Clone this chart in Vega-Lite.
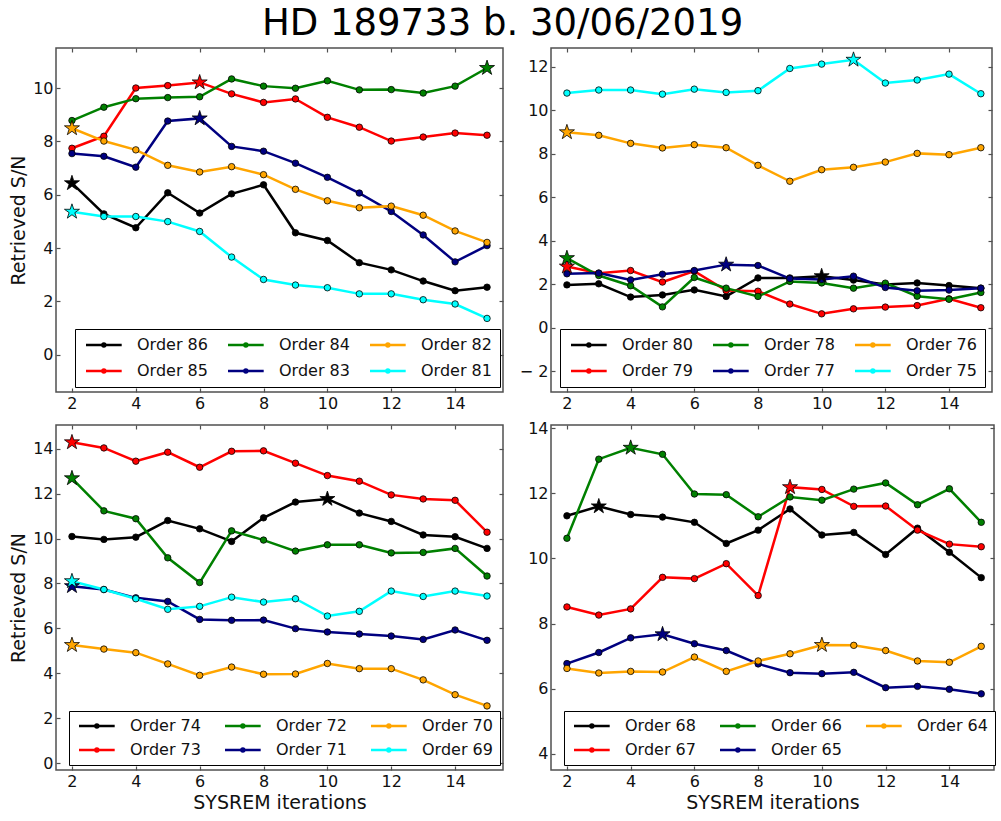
{
"$schema": "https://vega.github.io/schema/vega-lite/v6.json",
"background": "white",
"padding": {"left": 8, "top": 4, "right": 3, "bottom": 5},
"title": {"text": "HD 189733 b. 30/06/2019", "font": "DejaVu Sans", "fontSize": 37, "fontWeight": "normal", "color": "#000", "anchor": "middle", "frame": "bounds", "offset": 4},
"config": {
  "font": "DejaVu Sans",
  "view": {"stroke": "#505050", "strokeWidth": 1.5},
  "axis": {"domain": false, "grid": false, "ticks": true, "tickColor": "#505050", "tickSize": -4, "tickWidth": 1.2, "labelFont": "DejaVu Sans", "labelFontSize": 16, "labelColor": "#111", "labelPadding": 7, "titleFont": "DejaVu Sans", "titleFontSize": 19, "titleFontWeight": "normal", "titleColor": "#111"},
  "legend": {"labelFont": "DejaVu Sans", "labelFontSize": 16, "labelColor": "#111"}
},
"bounds": "flush",
"columns": 2,
"spacing": {"row": 33, "column": 48},
"resolve": {"scale": {"color": "independent"}, "legend": {"color": "independent"}},
"datasets": {"d": [
{"p":1,"s":"86","x":2,"y":6.43,"k":1},{"p":1,"s":"86","x":3,"y":5.28},{"p":1,"s":"86","x":4,"y":4.76},{"p":1,"s":"86","x":5,"y":6.07},{"p":1,"s":"86","x":6,"y":5.31},{"p":1,"s":"86","x":7,"y":6.03},{"p":1,"s":"86","x":8,"y":6.37},{"p":1,"s":"86","x":9,"y":4.57},{"p":1,"s":"86","x":10,"y":4.28},{"p":1,"s":"86","x":11,"y":3.45},{"p":1,"s":"86","x":12,"y":3.18},{"p":1,"s":"86","x":13,"y":2.76},{"p":1,"s":"86","x":14,"y":2.40},{"p":1,"s":"86","x":15,"y":2.53},
{"p":1,"s":"85","x":2,"y":7.74},{"p":1,"s":"85","x":3,"y":8.19},{"p":1,"s":"85","x":4,"y":10.0},{"p":1,"s":"85","x":5,"y":10.09},{"p":1,"s":"85","x":6,"y":10.21,"k":1},{"p":1,"s":"85","x":7,"y":9.78},{"p":1,"s":"85","x":8,"y":9.46},{"p":1,"s":"85","x":9,"y":9.59},{"p":1,"s":"85","x":10,"y":8.9},{"p":1,"s":"85","x":11,"y":8.53},{"p":1,"s":"85","x":12,"y":8.01},{"p":1,"s":"85","x":13,"y":8.16},{"p":1,"s":"85","x":14,"y":8.31},{"p":1,"s":"85","x":15,"y":8.23},
{"p":1,"s":"84","x":2,"y":8.78},{"p":1,"s":"84","x":3,"y":9.28},{"p":1,"s":"84","x":4,"y":9.6},{"p":1,"s":"84","x":5,"y":9.64},{"p":1,"s":"84","x":6,"y":9.67},{"p":1,"s":"84","x":7,"y":10.34},{"p":1,"s":"84","x":8,"y":10.07},{"p":1,"s":"84","x":9,"y":9.99},{"p":1,"s":"84","x":10,"y":10.27},{"p":1,"s":"84","x":11,"y":9.93},{"p":1,"s":"84","x":12,"y":9.94},{"p":1,"s":"84","x":13,"y":9.81},{"p":1,"s":"84","x":14,"y":10.07},{"p":1,"s":"84","x":15,"y":10.75,"k":1},
{"p":1,"s":"83","x":2,"y":7.54},{"p":1,"s":"83","x":3,"y":7.44},{"p":1,"s":"83","x":4,"y":7.03},{"p":1,"s":"83","x":5,"y":8.76},{"p":1,"s":"83","x":6,"y":8.86,"k":1},{"p":1,"s":"83","x":7,"y":7.81},{"p":1,"s":"83","x":8,"y":7.63},{"p":1,"s":"83","x":9,"y":7.18},{"p":1,"s":"83","x":10,"y":6.65},{"p":1,"s":"83","x":11,"y":6.06},{"p":1,"s":"83","x":12,"y":5.37},{"p":1,"s":"83","x":13,"y":4.49},{"p":1,"s":"83","x":14,"y":3.48},{"p":1,"s":"83","x":15,"y":4.09},
{"p":1,"s":"82","x":2,"y":8.49,"k":1},{"p":1,"s":"82","x":3,"y":8.01},{"p":1,"s":"82","x":4,"y":7.68},{"p":1,"s":"82","x":5,"y":7.1},{"p":1,"s":"82","x":6,"y":6.85},{"p":1,"s":"82","x":7,"y":7.05},{"p":1,"s":"82","x":8,"y":6.75},{"p":1,"s":"82","x":9,"y":6.2},{"p":1,"s":"82","x":10,"y":5.77},{"p":1,"s":"82","x":11,"y":5.51},{"p":1,"s":"82","x":12,"y":5.57},{"p":1,"s":"82","x":13,"y":5.23},{"p":1,"s":"82","x":14,"y":4.64},{"p":1,"s":"82","x":15,"y":4.21},
{"p":1,"s":"81","x":2,"y":5.36,"k":1},{"p":1,"s":"81","x":3,"y":5.18},{"p":1,"s":"81","x":4,"y":5.18},{"p":1,"s":"81","x":5,"y":4.99},{"p":1,"s":"81","x":6,"y":4.62},{"p":1,"s":"81","x":7,"y":3.66},{"p":1,"s":"81","x":8,"y":2.82},{"p":1,"s":"81","x":9,"y":2.61},{"p":1,"s":"81","x":10,"y":2.51},{"p":1,"s":"81","x":11,"y":2.28},{"p":1,"s":"81","x":12,"y":2.28},{"p":1,"s":"81","x":13,"y":2.06},{"p":1,"s":"81","x":14,"y":1.9},{"p":1,"s":"81","x":15,"y":1.36},

{"p":2,"s":"80","x":2,"y":1.97},{"p":2,"s":"80","x":3,"y":2.02},{"p":2,"s":"80","x":4,"y":1.41},{"p":2,"s":"80","x":5,"y":1.51},{"p":2,"s":"80","x":6,"y":1.74},{"p":2,"s":"80","x":7,"y":1.44},{"p":2,"s":"80","x":8,"y":2.29},{"p":2,"s":"80","x":9,"y":2.29},{"p":2,"s":"80","x":10,"y":2.37,"k":1},{"p":2,"s":"80","x":11,"y":2.19},{"p":2,"s":"80","x":12,"y":1.99},{"p":2,"s":"80","x":13,"y":2.06},{"p":2,"s":"80","x":14,"y":1.94},{"p":2,"s":"80","x":15,"y":1.82},
{"p":2,"s":"79","x":2,"y":2.81,"k":1},{"p":2,"s":"79","x":3,"y":2.51},{"p":2,"s":"79","x":4,"y":2.63},{"p":2,"s":"79","x":5,"y":2.1},{"p":2,"s":"79","x":6,"y":2.6},{"p":2,"s":"79","x":7,"y":1.71},{"p":2,"s":"79","x":8,"y":1.68},{"p":2,"s":"79","x":9,"y":1.09},{"p":2,"s":"79","x":10,"y":0.64},{"p":2,"s":"79","x":11,"y":0.87},{"p":2,"s":"79","x":12,"y":0.95},{"p":2,"s":"79","x":13,"y":1.02},{"p":2,"s":"79","x":14,"y":1.33},{"p":2,"s":"79","x":15,"y":0.92},
{"p":2,"s":"78","x":2,"y":3.2,"k":1},{"p":2,"s":"78","x":3,"y":2.4},{"p":2,"s":"78","x":4,"y":1.93},{"p":2,"s":"78","x":5,"y":0.96},{"p":2,"s":"78","x":6,"y":2.31},{"p":2,"s":"78","x":7,"y":1.82},{"p":2,"s":"78","x":8,"y":1.44},{"p":2,"s":"78","x":9,"y":2.13},{"p":2,"s":"78","x":10,"y":2.06},{"p":2,"s":"78","x":11,"y":1.82},{"p":2,"s":"78","x":12,"y":2.05},{"p":2,"s":"78","x":13,"y":1.45},{"p":2,"s":"78","x":14,"y":1.31},{"p":2,"s":"78","x":15,"y":1.62},
{"p":2,"s":"77","x":2,"y":2.48},{"p":2,"s":"77","x":3,"y":2.51},{"p":2,"s":"77","x":4,"y":2.2},{"p":2,"s":"77","x":5,"y":2.46},{"p":2,"s":"77","x":6,"y":2.63},{"p":2,"s":"77","x":7,"y":2.9,"k":1},{"p":2,"s":"77","x":8,"y":2.86},{"p":2,"s":"77","x":9,"y":2.26},{"p":2,"s":"77","x":10,"y":2.22},{"p":2,"s":"77","x":11,"y":2.37},{"p":2,"s":"77","x":12,"y":1.85},{"p":2,"s":"77","x":13,"y":1.7},{"p":2,"s":"77","x":14,"y":1.73},{"p":2,"s":"77","x":15,"y":1.82},
{"p":2,"s":"76","x":2,"y":8.98,"k":1},{"p":2,"s":"76","x":3,"y":8.84},{"p":2,"s":"76","x":4,"y":8.47},{"p":2,"s":"76","x":5,"y":8.26},{"p":2,"s":"76","x":6,"y":8.41},{"p":2,"s":"76","x":7,"y":8.27},{"p":2,"s":"76","x":8,"y":7.46},{"p":2,"s":"76","x":9,"y":6.73},{"p":2,"s":"76","x":10,"y":7.26},{"p":2,"s":"76","x":11,"y":7.37},{"p":2,"s":"76","x":12,"y":7.61},{"p":2,"s":"76","x":13,"y":8.01},{"p":2,"s":"76","x":14,"y":7.95},{"p":2,"s":"76","x":15,"y":8.27},
{"p":2,"s":"75","x":2,"y":10.78},{"p":2,"s":"75","x":3,"y":10.92},{"p":2,"s":"75","x":4,"y":10.92},{"p":2,"s":"75","x":5,"y":10.73},{"p":2,"s":"75","x":6,"y":10.96},{"p":2,"s":"75","x":7,"y":10.81},{"p":2,"s":"75","x":8,"y":10.89},{"p":2,"s":"75","x":9,"y":11.91},{"p":2,"s":"75","x":10,"y":12.11},{"p":2,"s":"75","x":11,"y":12.31,"k":1},{"p":2,"s":"75","x":12,"y":11.24},{"p":2,"s":"75","x":13,"y":11.38},{"p":2,"s":"75","x":14,"y":11.65},{"p":2,"s":"75","x":15,"y":10.75},

{"p":3,"s":"74","x":2,"y":10.09},{"p":3,"s":"74","x":3,"y":9.96},{"p":3,"s":"74","x":4,"y":10.06},{"p":3,"s":"74","x":5,"y":10.8},{"p":3,"s":"74","x":6,"y":10.43},{"p":3,"s":"74","x":7,"y":9.87},{"p":3,"s":"74","x":8,"y":10.92},{"p":3,"s":"74","x":9,"y":11.62},{"p":3,"s":"74","x":10,"y":11.76,"k":1},{"p":3,"s":"74","x":11,"y":11.13},{"p":3,"s":"74","x":12,"y":10.76},{"p":3,"s":"74","x":13,"y":10.16},{"p":3,"s":"74","x":14,"y":10.08},{"p":3,"s":"74","x":15,"y":9.56},
{"p":3,"s":"73","x":2,"y":14.28,"k":1},{"p":3,"s":"73","x":3,"y":14.03},{"p":3,"s":"73","x":4,"y":13.44},{"p":3,"s":"73","x":5,"y":13.84},{"p":3,"s":"73","x":6,"y":13.17},{"p":3,"s":"73","x":7,"y":13.88},{"p":3,"s":"73","x":8,"y":13.9},{"p":3,"s":"73","x":9,"y":13.35},{"p":3,"s":"73","x":10,"y":12.8},{"p":3,"s":"73","x":11,"y":12.55},{"p":3,"s":"73","x":12,"y":11.94},{"p":3,"s":"73","x":13,"y":11.76},{"p":3,"s":"73","x":14,"y":11.7},{"p":3,"s":"73","x":15,"y":10.28},
{"p":3,"s":"72","x":2,"y":12.68,"k":1},{"p":3,"s":"72","x":3,"y":11.23},{"p":3,"s":"72","x":4,"y":10.88},{"p":3,"s":"72","x":5,"y":9.14},{"p":3,"s":"72","x":6,"y":8.04},{"p":3,"s":"72","x":7,"y":10.34},{"p":3,"s":"72","x":8,"y":9.93},{"p":3,"s":"72","x":9,"y":9.44},{"p":3,"s":"72","x":10,"y":9.72},{"p":3,"s":"72","x":11,"y":9.72},{"p":3,"s":"72","x":12,"y":9.36},{"p":3,"s":"72","x":13,"y":9.38},{"p":3,"s":"72","x":14,"y":9.56},{"p":3,"s":"72","x":15,"y":8.33},
{"p":3,"s":"71","x":2,"y":7.88,"k":1},{"p":3,"s":"71","x":3,"y":7.73},{"p":3,"s":"71","x":4,"y":7.36},{"p":3,"s":"71","x":5,"y":7.2},{"p":3,"s":"71","x":6,"y":6.4},{"p":3,"s":"71","x":7,"y":6.36},{"p":3,"s":"71","x":8,"y":6.37},{"p":3,"s":"71","x":9,"y":5.99},{"p":3,"s":"71","x":10,"y":5.84},{"p":3,"s":"71","x":11,"y":5.75},{"p":3,"s":"71","x":12,"y":5.66},{"p":3,"s":"71","x":13,"y":5.51},{"p":3,"s":"71","x":14,"y":5.93},{"p":3,"s":"71","x":15,"y":5.47},
{"p":3,"s":"70","x":2,"y":5.26,"k":1},{"p":3,"s":"70","x":3,"y":5.08},{"p":3,"s":"70","x":4,"y":4.92},{"p":3,"s":"70","x":5,"y":4.42},{"p":3,"s":"70","x":6,"y":3.91},{"p":3,"s":"70","x":7,"y":4.28},{"p":3,"s":"70","x":8,"y":3.96},{"p":3,"s":"70","x":9,"y":3.97},{"p":3,"s":"70","x":10,"y":4.44},{"p":3,"s":"70","x":11,"y":4.21},{"p":3,"s":"70","x":12,"y":4.21},{"p":3,"s":"70","x":13,"y":3.71},{"p":3,"s":"70","x":14,"y":3.05},{"p":3,"s":"70","x":15,"y":2.55},
{"p":3,"s":"69","x":2,"y":8.1,"k":1},{"p":3,"s":"69","x":3,"y":7.73},{"p":3,"s":"69","x":4,"y":7.32},{"p":3,"s":"69","x":5,"y":6.85},{"p":3,"s":"69","x":6,"y":6.98},{"p":3,"s":"69","x":7,"y":7.39},{"p":3,"s":"69","x":8,"y":7.17},{"p":3,"s":"69","x":9,"y":7.32},{"p":3,"s":"69","x":10,"y":6.55},{"p":3,"s":"69","x":11,"y":6.76},{"p":3,"s":"69","x":12,"y":7.66},{"p":3,"s":"69","x":13,"y":7.42},{"p":3,"s":"69","x":14,"y":7.66},{"p":3,"s":"69","x":15,"y":7.44},

{"p":4,"s":"68","x":2,"y":11.31},{"p":4,"s":"68","x":3,"y":11.6,"k":1},{"p":4,"s":"68","x":4,"y":11.35},{"p":4,"s":"68","x":5,"y":11.27},{"p":4,"s":"68","x":6,"y":11.11},{"p":4,"s":"68","x":7,"y":10.46},{"p":4,"s":"68","x":8,"y":10.87},{"p":4,"s":"68","x":9,"y":11.52},{"p":4,"s":"68","x":10,"y":10.72},{"p":4,"s":"68","x":11,"y":10.8},{"p":4,"s":"68","x":12,"y":10.12},{"p":4,"s":"68","x":13,"y":10.93},{"p":4,"s":"68","x":14,"y":10.19},{"p":4,"s":"68","x":15,"y":9.41},
{"p":4,"s":"67","x":2,"y":8.51},{"p":4,"s":"67","x":3,"y":8.26},{"p":4,"s":"67","x":4,"y":8.45},{"p":4,"s":"67","x":5,"y":9.42},{"p":4,"s":"67","x":6,"y":9.38},{"p":4,"s":"67","x":7,"y":9.84},{"p":4,"s":"67","x":8,"y":8.86},{"p":4,"s":"67","x":9,"y":12.19,"k":1},{"p":4,"s":"67","x":10,"y":12.12},{"p":4,"s":"67","x":11,"y":11.6},{"p":4,"s":"67","x":12,"y":11.61},{"p":4,"s":"67","x":13,"y":10.87},{"p":4,"s":"67","x":14,"y":10.44},{"p":4,"s":"67","x":15,"y":10.36},
{"p":4,"s":"66","x":2,"y":10.62},{"p":4,"s":"66","x":3,"y":13.05},{"p":4,"s":"66","x":4,"y":13.4,"k":1},{"p":4,"s":"66","x":5,"y":13.2},{"p":4,"s":"66","x":6,"y":11.98},{"p":4,"s":"66","x":7,"y":11.96},{"p":4,"s":"66","x":8,"y":11.28},{"p":4,"s":"66","x":9,"y":11.89},{"p":4,"s":"66","x":10,"y":11.79},{"p":4,"s":"66","x":11,"y":12.13},{"p":4,"s":"66","x":12,"y":12.32},{"p":4,"s":"66","x":13,"y":11.65},{"p":4,"s":"66","x":14,"y":12.14},{"p":4,"s":"66","x":15,"y":11.11},
{"p":4,"s":"65","x":2,"y":6.77},{"p":4,"s":"65","x":3,"y":7.11},{"p":4,"s":"65","x":4,"y":7.56},{"p":4,"s":"65","x":5,"y":7.67,"k":1},{"p":4,"s":"65","x":6,"y":7.38},{"p":4,"s":"65","x":7,"y":7.17},{"p":4,"s":"65","x":8,"y":6.76},{"p":4,"s":"65","x":9,"y":6.49},{"p":4,"s":"65","x":10,"y":6.46},{"p":4,"s":"65","x":11,"y":6.5},{"p":4,"s":"65","x":12,"y":6.03},{"p":4,"s":"65","x":13,"y":6.07},{"p":4,"s":"65","x":14,"y":5.98},{"p":4,"s":"65","x":15,"y":5.84},
{"p":4,"s":"64","x":2,"y":6.62},{"p":4,"s":"64","x":3,"y":6.48},{"p":4,"s":"64","x":4,"y":6.53},{"p":4,"s":"64","x":5,"y":6.51},{"p":4,"s":"64","x":6,"y":6.97},{"p":4,"s":"64","x":7,"y":6.53},{"p":4,"s":"64","x":8,"y":6.85},{"p":4,"s":"64","x":9,"y":7.07},{"p":4,"s":"64","x":10,"y":7.34,"k":1},{"p":4,"s":"64","x":11,"y":7.33},{"p":4,"s":"64","x":12,"y":7.17},{"p":4,"s":"64","x":13,"y":6.85},{"p":4,"s":"64","x":14,"y":6.81},{"p":4,"s":"64","x":15,"y":7.3}
]},
"concat": [
{
  "width": 447, "height": 344,
  "data": {"name": "d"},
  "transform": [{"filter": "datum.p == 1"}],
  "resolve": {"axis": {"x": "independent", "y": "independent"}},
  "encoding": {
    "color": {"field": "s", "type": "nominal", "scale": {"domain": ["86","84","82","85","83","81"], "range": ["#000000","#008000","#ffa500","#ff0000","#000080","#00ffff"]},
      "legend": {"title": null, "orient": "none", "legendX": 19, "legendY": 281, "columns": 3, "direction": "horizontal", "labelExpr": "'Order ' + datum.label", "symbolType": "M-1,0H6.14M2.27,0a0.3,0.3 0 1,0 0.6,0a0.3,0.3 0 1,0 -0.6,0", "symbolSize": 100, "symbolStrokeWidth": 2.5, "labelOffset": 38, "columnPadding": 15, "rowPadding": 10, "padding": 8, "strokeColor": "black", "fillColor": "white", "symbolOpacity": 1}}
  },
  "layer": [
    {"mark": {"type": "line", "strokeWidth": 2.5},
     "encoding": {"x": {"field": "x", "type": "quantitative", "scale": {"domain": [1.5, 15.5], "nice": false, "zero": false}, "axis": {"orient": "bottom", "values": [2,4,6,8,10,12,14], "title": null}},
                  "y": {"field": "y", "type": "quantitative", "scale": {"domain": [-1.4, 11.5], "nice": false, "zero": false}, "axis": {"orient": "left", "values": [0,2,4,6,8,10], "title": "Retrieved S/N"}}}},
    {"transform": [{"filter": "!datum.k"}], "mark": {"type": "point", "filled": true, "shape": "circle", "size": 42, "stroke": "black", "strokeWidth": 0.8, "opacity": 1},
     "encoding": {"x": {"field": "x", "type": "quantitative", "axis": null}, "y": {"field": "y", "type": "quantitative", "axis": null}}},
    {"transform": [{"filter": "datum.k"}], "mark": {"type": "point", "filled": true, "shape": "M0,-1L0.2245,-0.309L0.951,-0.309L0.363,0.118L0.588,0.809L0,0.382L-0.588,0.809L-0.363,0.118L-0.951,-0.309L-0.2245,-0.309Z", "size": 250, "stroke": "black", "strokeWidth": 0.8, "opacity": 1},
     "encoding": {"x": {"field": "x", "type": "quantitative", "axis": {"orient": "top", "labels": false, "title": null, "values": [2,4,6,8,10,12,14]}}, "y": {"field": "y", "type": "quantitative", "axis": {"orient": "right", "labels": false, "title": null, "values": [0,2,4,6,8,10]}}}}
  ]
},
{
  "width": 441, "height": 344,
  "data": {"name": "d"},
  "transform": [{"filter": "datum.p == 2"}],
  "resolve": {"axis": {"x": "independent", "y": "independent"}},
  "encoding": {
    "color": {"field": "s", "type": "nominal", "scale": {"domain": ["80","78","76","79","77","75"], "range": ["#000000","#008000","#ffa500","#ff0000","#000080","#00ffff"]},
      "legend": {"title": null, "orient": "none", "legendX": 9, "legendY": 281, "columns": 3, "direction": "horizontal", "labelExpr": "'Order ' + datum.label", "symbolType": "M-1,0H6.14M2.27,0a0.3,0.3 0 1,0 0.6,0a0.3,0.3 0 1,0 -0.6,0", "symbolSize": 100, "symbolStrokeWidth": 2.5, "labelOffset": 38, "columnPadding": 15, "rowPadding": 10, "padding": 8, "strokeColor": "black", "fillColor": "white", "symbolOpacity": 1}}
  },
  "layer": [
    {"mark": {"type": "line", "strokeWidth": 2.5},
     "encoding": {"x": {"field": "x", "type": "quantitative", "scale": {"domain": [1.5, 15.35], "nice": false, "zero": false}, "axis": {"orient": "bottom", "values": [2,4,6,8,10,12,14], "title": null}},
                  "y": {"field": "y", "type": "quantitative", "scale": {"domain": [-2.95, 12.85], "nice": false, "zero": false}, "axis": {"orient": "left", "values": [-2,0,2,4,6,8,10,12], "title": null, "labelExpr": "datum.value < 0 ? '\u2212 ' + abs(datum.value) : datum.label"}}}},
    {"transform": [{"filter": "!datum.k"}], "mark": {"type": "point", "filled": true, "shape": "circle", "size": 42, "stroke": "black", "strokeWidth": 0.8, "opacity": 1},
     "encoding": {"x": {"field": "x", "type": "quantitative", "axis": null}, "y": {"field": "y", "type": "quantitative", "axis": null}}},
    {"transform": [{"filter": "datum.k"}], "mark": {"type": "point", "filled": true, "shape": "M0,-1L0.2245,-0.309L0.951,-0.309L0.363,0.118L0.588,0.809L0,0.382L-0.588,0.809L-0.363,0.118L-0.951,-0.309L-0.2245,-0.309Z", "size": 250, "stroke": "black", "strokeWidth": 0.8, "opacity": 1},
     "encoding": {"x": {"field": "x", "type": "quantitative", "axis": {"orient": "top", "labels": false, "title": null, "values": [2,4,6,8,10,12,14]}}, "y": {"field": "y", "type": "quantitative", "axis": {"orient": "right", "labels": false, "title": null, "values": [-2,0,2,4,6,8,10,12]}}}}
  ]
},
{
  "width": 447, "height": 345,
  "data": {"name": "d"},
  "transform": [{"filter": "datum.p == 3"}],
  "resolve": {"axis": {"x": "independent", "y": "independent"}},
  "encoding": {
    "color": {"field": "s", "type": "nominal", "scale": {"domain": ["74","72","70","73","71","69"], "range": ["#000000","#008000","#ffa500","#ff0000","#000080","#00ffff"]},
      "legend": {"title": null, "orient": "none", "legendX": 13, "legendY": 286, "columns": 3, "direction": "horizontal", "labelExpr": "'Order ' + datum.label", "symbolType": "M-1,0H6.14M2.27,0a0.3,0.3 0 1,0 0.6,0a0.3,0.3 0 1,0 -0.6,0", "symbolSize": 100, "symbolStrokeWidth": 2.5, "labelOffset": 38, "columnPadding": 19, "rowPadding": 8, "padding": 7, "strokeColor": "black", "fillColor": "white", "symbolOpacity": 1}}
  },
  "layer": [
    {"mark": {"type": "line", "strokeWidth": 2.5},
     "encoding": {"x": {"field": "x", "type": "quantitative", "scale": {"domain": [1.5, 15.5], "nice": false, "zero": false}, "axis": {"orient": "bottom", "values": [2,4,6,8,10,12,14], "title": "SYSREM iterations"}},
                  "y": {"field": "y", "type": "quantitative", "scale": {"domain": [-0.3, 15.05], "nice": false, "zero": false}, "axis": {"orient": "left", "values": [0,2,4,6,8,10,12,14], "title": "Retrieved S/N"}}}},
    {"transform": [{"filter": "!datum.k"}], "mark": {"type": "point", "filled": true, "shape": "circle", "size": 42, "stroke": "black", "strokeWidth": 0.8, "opacity": 1},
     "encoding": {"x": {"field": "x", "type": "quantitative", "axis": null}, "y": {"field": "y", "type": "quantitative", "axis": null}}},
    {"transform": [{"filter": "datum.k"}], "mark": {"type": "point", "filled": true, "shape": "M0,-1L0.2245,-0.309L0.951,-0.309L0.363,0.118L0.588,0.809L0,0.382L-0.588,0.809L-0.363,0.118L-0.951,-0.309L-0.2245,-0.309Z", "size": 250, "stroke": "black", "strokeWidth": 0.8, "opacity": 1},
     "encoding": {"x": {"field": "x", "type": "quantitative", "axis": {"orient": "top", "labels": false, "title": null, "values": [2,4,6,8,10,12,14]}}, "y": {"field": "y", "type": "quantitative", "axis": {"orient": "right", "labels": false, "title": null, "values": [0,2,4,6,8,10,12,14]}}}}
  ]
},
{
  "width": 443, "height": 345,
  "data": {"name": "d"},
  "transform": [{"filter": "datum.p == 4"}],
  "resolve": {"axis": {"x": "independent", "y": "independent"}},
  "encoding": {
    "color": {"field": "s", "type": "nominal", "scale": {"domain": ["68","66","64","67","65"], "range": ["#000000","#008000","#ffa500","#ff0000","#000080"]},
      "legend": {"title": null, "orient": "none", "legendX": 13, "legendY": 286, "columns": 3, "direction": "horizontal", "labelExpr": "'Order ' + datum.label", "symbolType": "M-1,0H6.14M2.27,0a0.3,0.3 0 1,0 0.6,0a0.3,0.3 0 1,0 -0.6,0", "symbolSize": 100, "symbolStrokeWidth": 2.5, "labelOffset": 38, "columnPadding": 19, "rowPadding": 8, "padding": 7, "strokeColor": "black", "fillColor": "white", "symbolOpacity": 1}}
  },
  "layer": [
    {"mark": {"type": "line", "strokeWidth": 2.5},
     "encoding": {"x": {"field": "x", "type": "quantitative", "scale": {"domain": [1.5, 15.4], "nice": false, "zero": false}, "axis": {"orient": "bottom", "values": [2,4,6,8,10,12,14], "title": "SYSREM iterations"}},
                  "y": {"field": "y", "type": "quantitative", "scale": {"domain": [3.5, 14.1], "nice": false, "zero": false}, "axis": {"orient": "left", "values": [4,6,8,10,12,14], "title": null}}}},
    {"transform": [{"filter": "!datum.k"}], "mark": {"type": "point", "filled": true, "shape": "circle", "size": 42, "stroke": "black", "strokeWidth": 0.8, "opacity": 1},
     "encoding": {"x": {"field": "x", "type": "quantitative", "axis": null}, "y": {"field": "y", "type": "quantitative", "axis": null}}},
    {"transform": [{"filter": "datum.k"}], "mark": {"type": "point", "filled": true, "shape": "M0,-1L0.2245,-0.309L0.951,-0.309L0.363,0.118L0.588,0.809L0,0.382L-0.588,0.809L-0.363,0.118L-0.951,-0.309L-0.2245,-0.309Z", "size": 250, "stroke": "black", "strokeWidth": 0.8, "opacity": 1},
     "encoding": {"x": {"field": "x", "type": "quantitative", "axis": {"orient": "top", "labels": false, "title": null, "values": [2,4,6,8,10,12,14]}}, "y": {"field": "y", "type": "quantitative", "axis": {"orient": "right", "labels": false, "title": null, "values": [4,6,8,10,12,14]}}}}
  ]
}
]
}
